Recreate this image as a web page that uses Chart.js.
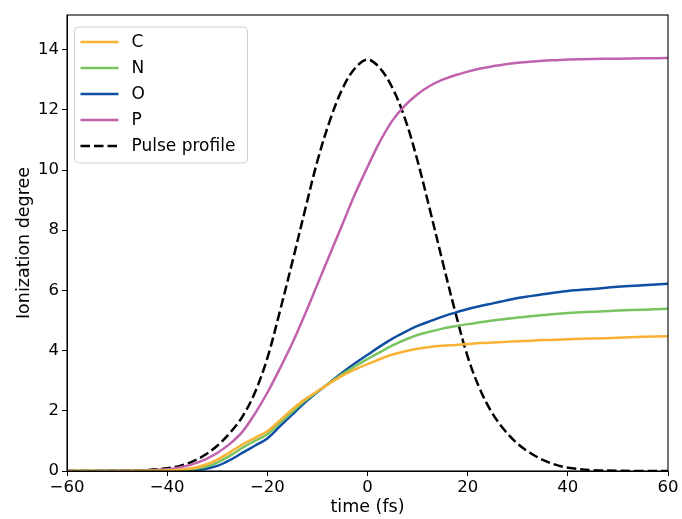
<!DOCTYPE html>
<html>
<head>
<meta charset="utf-8">
<script src="https://cdn.jsdelivr.net/npm/chart.js@4"></script>
<style>
  html, body { margin: 0; padding: 0; background: #fff; }
  #wrap { width: 682px; height: 519px; position: relative; }
</style>
</head>
<body>
<div id="wrap"><canvas id="chart" width="682" height="519"></canvas></div>
<script>
/* ─── Data ───────────────────────────────────────────────── */
const times = [-60, -50, -45, -40, -37.5, -35, -32.5, -30, -27.5, -25, -22.5, -20, -17.5, -15, -12.5, -10, -7.5, -5, -2.5, 0,
               2.5, 5, 7.5, 10, 12.5, 15, 17.5, 20, 22.5, 25, 27.5, 30, 32.5, 35, 37.5, 40, 45, 50, 55, 60];

const ionC = [0, 0.001, 0.005, 0.02, 0.045, 0.09, 0.2, 0.38, 0.62, 0.88, 1.1, 1.32, 1.68, 2.05, 2.38, 2.65, 2.92, 3.17, 3.38, 3.55,
              3.72, 3.87, 3.98, 4.06, 4.12, 4.16, 4.19, 4.22, 4.25, 4.27, 4.29, 4.31, 4.33, 4.35, 4.36, 4.38, 4.4, 4.43, 4.46, 4.48];
const ionN = [0, 0.001, 0.003, 0.015, 0.03, 0.06, 0.13, 0.28, 0.5, 0.77, 1.0, 1.22, 1.6, 1.97, 2.33, 2.64, 2.93, 3.22, 3.48, 3.72,
              3.95, 4.17, 4.36, 4.52, 4.63, 4.73, 4.81, 4.88, 4.94, 5.0, 5.05, 5.1, 5.14, 5.18, 5.22, 5.25, 5.29, 5.33, 5.36, 5.39];
const ionO = [0, 0, 0.002, 0.008, 0.015, 0.03, 0.07, 0.17, 0.36, 0.6, 0.84, 1.08, 1.48, 1.88, 2.27, 2.62, 2.94, 3.27, 3.58, 3.86,
              4.14, 4.4, 4.62, 4.82, 4.98, 5.13, 5.26, 5.38, 5.48, 5.57, 5.66, 5.75, 5.81, 5.87, 5.93, 5.98, 6.05, 6.12, 6.17, 6.22];
const ionP = [0, 0.005, 0.02, 0.06, 0.12, 0.22, 0.38, 0.6, 0.9, 1.3, 1.9, 2.6, 3.4, 4.25, 5.2, 6.2, 7.2, 8.2, 9.2, 10.1,
              10.95, 11.65, 12.15, 12.52, 12.8, 13.0, 13.15, 13.27, 13.37, 13.45, 13.51, 13.56, 13.6, 13.63, 13.65, 13.67, 13.69, 13.7, 13.71, 13.72];
const pulse = [0, 0.005, 0.025, 0.09, 0.17, 0.31, 0.53, 0.84, 1.26, 1.8, 2.6, 3.75, 5.3, 6.95, 8.65, 10.3, 11.65, 12.7, 13.38, 13.67,
               13.38, 12.72, 11.7, 10.3, 8.65, 6.95, 5.3, 3.8, 2.7, 1.9, 1.33, 0.9, 0.6, 0.37, 0.21, 0.11, 0.03, 0.008, 0.002, 0];

const seriesLabels = ['C', 'N', 'O', 'P', 'Pulse profile'];
const seriesValues = [ionC, ionN, ionO, ionP, pulse];
const seriesColors = ['#f9b234', '#79c360', '#0f4fa3', '#c062ae', '#000000'];

const xTicks = [-60, -40, -20, 0, 20, 40, 60];
const yTicks = [0, 2, 4, 6, 8, 10, 12, 14];

const FONT = 'DejaVu Sans';
const minus = v => String(v).replace('-', '\u2212');

/* ─── Axes frame + inside legend ─────────────────────────── */
const framePlugin = {
  id: 'frame',
  afterDatasetsDraw(chart) {
    const { ctx, chartArea: a } = chart;
    ctx.save();
    ctx.strokeStyle = '#000';
    ctx.lineWidth = 1.1;
    ctx.strokeRect(a.left, a.top, a.right - a.left, a.bottom - a.top);
    ctx.restore();
  }
};

const insideLegend = {
  id: 'insideLegend',
  afterDraw(chart, args, opts) {
    const { ctx } = chart;
    const { x, y, w, h, rowH } = opts;
    ctx.save();
    ctx.beginPath();
    ctx.roundRect(x, y, w, h, 4);
    ctx.fillStyle = 'rgba(255,255,255,0.8)';
    ctx.fill();
    ctx.strokeStyle = '#d0d0d0';
    ctx.lineWidth = 1;
    ctx.stroke();
    ctx.font = `17px "${FONT}"`;
    ctx.textBaseline = 'middle';
    chart.data.datasets.forEach((ds, i) => {
      const cy = y + 15 + i * rowH;
      ctx.beginPath();
      ctx.setLineDash(ds.borderDash || []);
      ctx.strokeStyle = ds.borderColor;
      ctx.lineWidth = ds.borderWidth;
      ctx.moveTo(x + 6, cy);
      ctx.lineTo(x + 44, cy);
      ctx.stroke();
      ctx.setLineDash([]);
      ctx.fillStyle = '#000';
      ctx.fillText(ds.label, x + 57, cy + 1);
    });
    ctx.restore();
  }
};

/* ─── Chart ──────────────────────────────────────────────── */
const datasets = seriesLabels.map((label, i) => ({
  label,
  data: times.map((t, j) => ({ x: t, y: seriesValues[i][j] })),
  borderColor: seriesColors[i],
  borderWidth: 2.5,
  borderDash: i === 4 ? [9.5, 4] : [],
  pointRadius: 0,
  fill: false,
  tension: 0.35
}));

new Chart(document.getElementById('chart'), {
  type: 'line',
  data: { datasets },
  options: {
    responsive: false,
    animation: false,
    events: [],
    layout: { padding: { top: 15, right: 14, left: 0, bottom: 0 } },
    plugins: {
      legend: { display: false },
      tooltip: { enabled: false },
      insideLegend: { x: 74.5, y: 27, w: 173, h: 136, rowH: 26 }
    },
    scales: {
      x: {
        type: 'linear',
        min: -60,
        max: 60,
        afterBuildTicks: s => { s.ticks = xTicks.map(v => ({ value: v })); },
        afterFit: s => { s.height = 48; },
        ticks: {
          color: '#000',
          font: { family: FONT, size: 16.5 },
          padding: 2,
          maxRotation: 0,
          callback: v => minus(v)
        },
        grid: { drawOnChartArea: false, drawTicks: true, tickLength: 5, tickColor: '#000', tickWidth: 1 },
        border: { display: true, color: '#000', width: 1 },
        title: {
          display: true,
          text: 'time (fs)',
          color: '#000',
          font: { family: FONT, size: 17.5 },
          padding: { top: 0, bottom: 1 }
        }
      },
      y: {
        type: 'linear',
        min: 0,
        max: 15.15,
        afterBuildTicks: s => { s.ticks = yTicks.map(v => ({ value: v })); },
        afterFit: s => { s.width = 67; },
        ticks: {
          color: '#000',
          font: { family: FONT, size: 16.5 },
          padding: 3,
          callback: v => minus(v)
        },
        grid: { drawOnChartArea: false, drawTicks: true, tickLength: 5, tickColor: '#000', tickWidth: 1 },
        border: { display: true, color: '#000', width: 1 },
        title: {
          display: true,
          text: 'Ionization degree',
          color: '#000',
          font: { family: FONT, size: 17.5 },
          padding: { top: 14, bottom: 0 }
        }
      }
    }
  },
  plugins: [framePlugin, insideLegend]
});
</script>
</body>
</html>
